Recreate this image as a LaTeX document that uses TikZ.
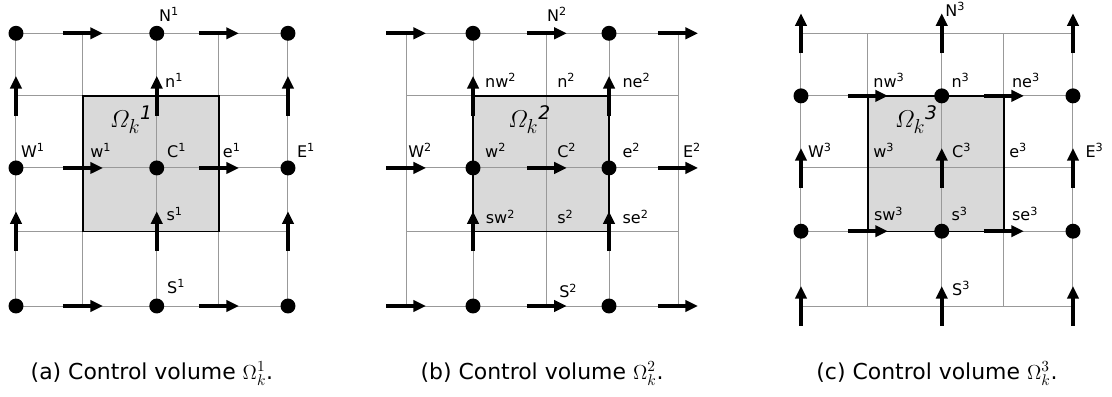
\documentclass[tikz,border=0pt]{standalone}
\usepackage{amsmath}
\usepackage{fontspec}
\setmainfont{DejaVu Sans}
\usetikzlibrary{arrows.meta}
\tikzset{
  gridline/.style={gray!80,line width=0.7pt},
  cvbox/.style={line width=0.9pt},
  flux/.style={-{Triangle[length=9pt,width=8pt]},line width=2.8pt},
  lab/.style={anchor=base west,inner sep=0pt,font=\fontsize{11.4}{13}\selectfont},
  omega/.style={anchor=base west,inner sep=0pt,font=\fontsize{19}{21}\selectfont},
  caption/.style={anchor=base,inner sep=0pt,font=\fontsize{15.6}{18}\selectfont}
}
% grid line positions (the faces are not quite midway)
\def\colpos{{0,0.985,2.07,2.985,4.0}}
\def\rowpos{{0,1.10,2.03,3.09,4.01}}

\begin{document}
\begin{tikzpicture}[x=1.7cm,y=1.7cm]
  \useasboundingbox (0,0) rectangle (16.353,5.824);
  % (a) cell centred on C
  \begin{scope}[shift={(0.235,1.324)}]
    \foreach \i in {0,...,4} \foreach \j in {0,...,4}
      \coordinate (a\i\j) at ({\colpos[\i]},{\rowpos[\j]});
    \fill[black!15] (a11) rectangle (a33);
    \foreach \i in {0,...,4} {
      \draw[gridline] (a\i0) -- (a\i4);
      \draw[gridline] (a0\i) -- (a4\i);
    }
    \draw[cvbox] (a11) rectangle (a33);
    \foreach \x in {1,3} \foreach \y in {0,2,4}
      \draw[flux] ([xshift=-5mm]a\x\y) -- ([xshift=5mm]a\x\y);
    \foreach \x in {0,2,4} \foreach \y in {1,3}
      \draw[flux] ([yshift=-5mm]a\x\y) -- ([yshift=5mm]a\x\y);
    \foreach \x in {0,2,4} \foreach \y in {0,2,4}
      \fill[black] (a\x\y) circle (0.11);
    \node[lab] (N1) at (2.10,4.19) {N\textsuperscript{1}};
    \node[lab] (n1) at (2.19,3.22) {n\textsuperscript{1}};
    \node[lab] (W1) at (0.07,2.19) {W\textsuperscript{1}};
    \node[lab] (w1) at (1.09,2.19) {w\textsuperscript{1}};
    \node[lab] (C1) at (2.22,2.19) {C\textsuperscript{1}};
    \node[lab] (e1) at (3.04,2.19) {e\textsuperscript{1}};
    \node[lab] (E1) at (4.13,2.19) {E\textsuperscript{1}};
    \node[lab] (s1) at (2.21,1.25) {s\textsuperscript{1}};
    \node[lab] (S1) at (2.22,0.19) {S\textsuperscript{1}};
    \node[omega] (om1) at (1.38,2.62) {${\varOmega_k}^{\mathit{1}}$};
    \node[caption] (capa) at (2,-1.075) {(a) Control volume $\Omega_k^1$.};
  \end{scope}
  % (b) cell shifted half a step in x
  \begin{scope}[shift={(5.971,1.324)}]
    \foreach \i in {0,...,4} \foreach \j in {0,...,4}
      \coordinate (b\i\j) at ({\colpos[\i]},{\rowpos[\j]});
    \fill[black!15] (b11) rectangle (b33);
    \foreach \i in {0,...,4} {
      \draw[gridline] (b\i0) -- (b\i4);
      \draw[gridline] (b0\i) -- (b4\i);
    }
    \draw[cvbox] (b11) rectangle (b33);
    \foreach \x in {0,2,4} \foreach \y in {0,2,4}
      \draw[flux] ([xshift=-5mm]b\x\y) -- ([xshift=5mm]b\x\y);
    \foreach \x in {1,3} \foreach \y in {1,3}
      \draw[flux] ([yshift=-5mm]b\x\y) -- ([yshift=5mm]b\x\y);
    \foreach \x in {1,3} \foreach \y in {0,2,4}
      \fill[black] (b\x\y) circle (0.11);
    \node[lab] (N2) at (2.07,4.19) {N\textsuperscript{2}};
    \node[lab] (nw2) at (1.16,3.22) {nw\textsuperscript{2}};
    \node[lab] (n2) at (2.22,3.22) {n\textsuperscript{2}};
    \node[lab] (ne2) at (3.18,3.22) {ne\textsuperscript{2}};
    \node[lab] (W2) at (0.03,2.19) {W\textsuperscript{2}};
    \node[lab] (w2) at (1.16,2.19) {w\textsuperscript{2}};
    \node[lab] (C2) at (2.22,2.19) {C\textsuperscript{2}};
    \node[lab] (e2) at (3.18,2.19) {e\textsuperscript{2}};
    \node[lab] (E2) at (4.07,2.19) {E\textsuperscript{2}};
    \node[lab] (sw2) at (1.17,1.21) {sw\textsuperscript{2}};
    \node[lab] (s2) at (2.22,1.21) {s\textsuperscript{2}};
    \node[lab] (se2) at (3.18,1.21) {se\textsuperscript{2}};
    \node[lab] (S2) at (2.25,0.12) {S\textsuperscript{2}};
    \node[omega] (om2) at (1.50,2.62) {${\varOmega_k}^{\mathit{2}}$};
    \node[caption] (capb) at (2,-1.075) {(b) Control volume $\Omega_k^2$.};
  \end{scope}
  % (c) cell shifted half a step in y
  \begin{scope}[shift={(11.779,1.324)}]
    \foreach \i in {0,...,4} \foreach \j in {0,...,4}
      \coordinate (c\i\j) at ({\colpos[\i]},{\rowpos[\j]});
    \fill[black!15] (c11) rectangle (c33);
    \foreach \i in {0,...,4} {
      \draw[gridline] (c\i0) -- (c\i4);
      \draw[gridline] (c0\i) -- (c4\i);
    }
    \draw[cvbox] (c11) rectangle (c33);
    \foreach \x in {1,3} \foreach \y in {1,3}
      \draw[flux] ([xshift=-5mm]c\x\y) -- ([xshift=5mm]c\x\y);
    \foreach \x in {0,2,4} \foreach \y in {0,2,4}
      \draw[flux] ([yshift=-5mm]c\x\y) -- ([yshift=5mm]c\x\y);
    \foreach \x in {0,2,4} \foreach \y in {1,3}
      \fill[black] (c\x\y) circle (0.11);
    \node[lab] (N3) at (2.12,4.26) {N\textsuperscript{3}};
    \node[lab] (nw3) at (1.06,3.22) {nw\textsuperscript{3}};
    \node[lab] (n3) at (2.21,3.22) {n\textsuperscript{3}};
    \node[lab] (ne3) at (3.10,3.22) {ne\textsuperscript{3}};
    \node[lab] (W3) at (0.10,2.19) {W\textsuperscript{3}};
    \node[lab] (w3) at (1.06,2.19) {w\textsuperscript{3}};
    \node[lab] (C3) at (2.22,2.19) {C\textsuperscript{3}};
    \node[lab] (e3) at (3.06,2.19) {e\textsuperscript{3}};
    \node[lab] (E3) at (4.18,2.19) {E\textsuperscript{3}};
    \node[lab] (sw3) at (1.07,1.25) {sw\textsuperscript{3}};
    \node[lab] (s3) at (2.21,1.25) {s\textsuperscript{3}};
    \node[lab] (se3) at (3.10,1.25) {se\textsuperscript{3}};
    \node[lab] (S3) at (2.22,0.16) {S\textsuperscript{3}};
    \node[omega] (om3) at (1.38,2.62) {${\varOmega_k}^{\mathit{3}}$};
    \node[caption] (capc) at (2,-1.075) {(c) Control volume $\Omega_k^3$.};
  \end{scope}
\end{tikzpicture}
\end{document}
